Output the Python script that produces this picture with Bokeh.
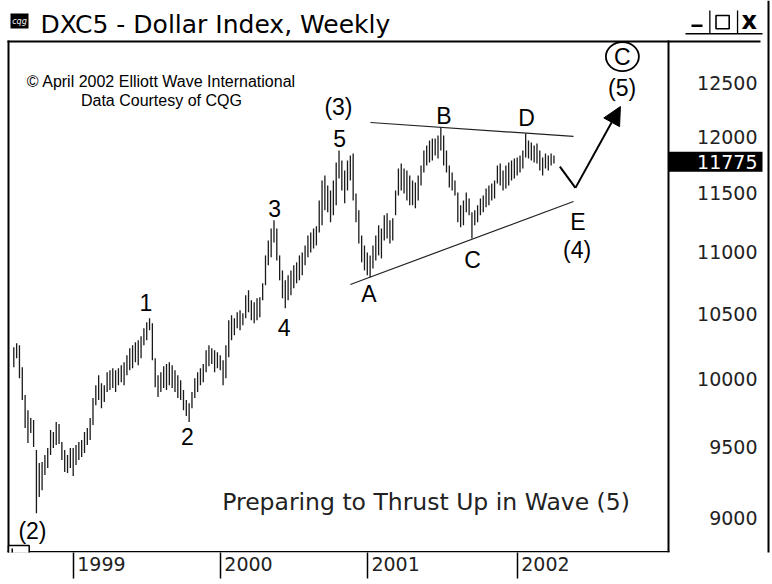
import math
from bokeh.plotting import figure
from bokeh.models import Range1d, FixedTicker, Label, BoxAnnotation, Arrow, NormalHead
from bokeh.core.properties import value
from bokeh.embed import file_html
from bokeh.resources import INLINE

# ---------------- data (weekly bars, Aug 1998 - Mar 2002) ----------------
highs = [10240, 10271, 10255, 10087, 9877, 9765, 9707, 9693, 9476, 9384,
         9391, 9440, 9490, 9620, 9606, 9678, 9664, 9534, 9476, 9440,
         9490, 9490, 9512, 9534, 9548, 9606, 9635, 9707, 9855, 9951,
         10026, 9966, 9951, 10049, 10064, 10079, 10064, 10079, 10102, 10125,
         10178, 10232, 10255, 10278, 10294, 10325, 10387, 10434, 10465, 10426,
         10155, 10026, 10049, 10094, 10110, 10125, 10102, 10064, 10026, 9988,
         9914, 9840, 9817, 9899, 10003, 10049, 10079, 10110, 10216, 10255,
         10232, 10216, 10201, 10178, 10140, 10255, 10449, 10489, 10465, 10513,
         10529, 10505, 10649, 10689, 10608, 10592, 10624, 10632, 10745, 10973,
         11097, 11198, 11267, 11198, 10973, 10850, 10769, 10810, 10850, 10891,
         10916, 10973, 10998, 11056, 11140, 11165, 11198, 11216, 11437, 11610,
         11654, 11567, 11523, 11610, 11768, 11876, 11786, 11698, 11786, 11831,
         11849, 11497, 11352, 11140, 11056, 10998, 10973, 11056, 11140, 11225,
         11198, 11310, 11327, 11267, 11284, 11523, 11716, 11760, 11716, 11698,
         11654, 11610, 11593, 11654, 11742, 11876, 11921, 11966, 11984, 11984,
         12011, 12083, 12011, 11876, 11742, 11680, 11610, 11506, 11395, 11437,
         11506, 11454, 11335, 11352, 11395, 11454, 11480, 11541, 11567, 11584,
         11610, 11742, 11760, 11698, 11742, 11768, 11786, 11804, 11813, 11831,
         11876, 12029, 11966, 11948, 11921, 11939, 11876, 11813, 11849, 11831,
         11849, 11831]
lows = [10087, 10155, 10003, 9840, 9635, 9526, 9598, 9498, 9036, 9146,
        9194, 9299, 9348, 9440, 9490, 9512, 9519, 9405, 9320, 9313,
        9348, 9292, 9370, 9405, 9426, 9455, 9512, 9548, 9657, 9802,
        9840, 9780, 9825, 9899, 9914, 9929, 9899, 9951, 9973, 9951,
        10026, 10064, 10079, 10125, 10102, 10155, 10255, 10294, 10372, 10140,
        9936, 9862, 9899, 9929, 9914, 9951, 9929, 9899, 9855, 9840,
        9765, 9722, 9678, 9780, 9855, 9899, 9951, 9973, 10049, 10094,
        10110, 10049, 10079, 10064, 9951, 10003, 10163, 10294, 10333, 10387,
        10372, 10410, 10465, 10513, 10449, 10426, 10449, 10473, 10608, 10729,
        10891, 10957, 11080, 10932, 10769, 10624, 10545, 10608, 10649, 10705,
        10745, 10769, 10810, 10891, 10957, 10998, 11031, 11056, 11165, 11225,
        11352, 11335, 11250, 11310, 11395, 11628, 11523, 11412, 11523, 11610,
        11437, 11250, 11072, 10916, 10850, 10810, 10794, 10866, 10932, 10973,
        10948, 11097, 11114, 11072, 11097, 11310, 11480, 11523, 11497, 11437,
        11395, 11395, 11369, 11437, 11567, 11680, 11742, 11768, 11786, 11831,
        11804, 11876, 11742, 11680, 11549, 11523, 11480, 11250, 11208, 11225,
        11335, 11310, 11114, 11225, 11250, 11310, 11335, 11378, 11395, 11437,
        11454, 11584, 11567, 11523, 11541, 11567, 11610, 11628, 11654, 11680,
        11716, 11813, 11804, 11786, 11768, 11760, 11698, 11654, 11716, 11698,
        11742, 11760]
bar_index = list(range(len(highs)))

year_labels = ["1999", "2000", "2001", "2002"]
year_first_bar = [21, 73, 125, 178]
price_ticks = [9000, 9500, 10000, 10500, 11000, 11500, 12000, 12500]
last_price = 11775

wave_labels = ["(2)", "1", "2", "3", "4", "5", "(3)", "A", "B", "C", "D", "E", "(4)", "(5)", "C"]
wave_x = [6.6, 46.7, 61.4, 92.2, 95.6, 115.2, 114.8, 125.6, 152.1, 162.2, 181.3, 199.5, 199.2, 215.1, 215.2]
wave_y = [8915, 10592, 9570, 11369, 10395, 11984, 12276, 10661, 12188, 10932, 12170, 11250, 11014, 12444, 12747]

upper_x = [126.1, 197.9]
upper_y = [12129, 12002]
lower_x = [119.0, 197.9]
lower_y = [10735, 11428]
proj_x = [193.1, 198.6, 214.5]
proj_y = [11733, 11546, 12276]

# ---------------- figure ----------------
W, H = 772, 584
p = figure(width=W, height=H, output_backend="svg", toolbar_location=None,
           y_axis_type="log", y_axis_location=None, x_axis_location="below",
           x_range=Range1d(-4.703, 268.28), y_range=Range1d(8772, 13297),
           min_border_left=0, min_border_right=0, min_border_top=0, min_border_bottom=32)
p.title.visible = False
p.grid.visible = False
p.outline_line_color = None
p.background_fill_color = "white"
p.border_fill_color = "white"

INK = "#1a1a1a"

# bars
p.segment(x0=bar_index, y0=lows, x1=bar_index, y1=highs, line_color=INK, line_width=1.3)

# trend lines and projection
p.line(upper_x, upper_y, line_color="#222222", line_width=1.2)
p.line(lower_x, lower_y, line_color="#222222", line_width=1.2)
p.line(proj_x[:2], proj_y[:2], line_color="black", line_width=2)
p.add_layout(Arrow(end=NormalHead(size=18, fill_color="black", line_color="black"),
                   x_start=proj_x[1], y_start=proj_y[1], x_end=proj_x[2], y_end=proj_y[2],
                   line_color="black", line_width=2))

# wave labels
p.text(x=wave_x, y=wave_y, text=wave_labels, text_font=value("Liberation Sans"),
       text_font_size="23px", text_align="center", text_baseline="middle", text_color="black")
p.ellipse(x=[wave_x[-1]], y=[wave_y[-1]], width=33, height=29, width_units="screen",
          height_units="screen", fill_color=None, line_color="black", line_width=1.8)

p.text(x=[52.2, 52.2], y=[12509, 12332],
       text=["\u00a9 April 2002 Elliott Wave International", "Data Courtesy of CQG"],
       text_font=value("Liberation Sans"), text_font_size="16px", text_align="center",
       text_baseline="middle", text_color="black")
p.text(x=[73.7], y=[9113], text=["Preparing to Thrust Up in Wave (5)"],
       text_font=value("DejaVu Sans"), text_font_size="23.5px", text_align="left",
       text_baseline="middle", text_color="#222222")

# price scale labels (right of the chart panel)
price_label_x = 262.97
p.text(x=[price_label_x] * len(price_ticks), y=price_ticks, text=[str(t) for t in price_ticks],
       text_font=value("DejaVu Sans"), text_font_size="19px", text_align="right",
       text_baseline="middle", text_color="#222222")

# bottom axis: year separators as minor ticks, labels just right of them
xa = p.xaxis[0]
label_pos = [b + 10 for b in year_first_bar]
xa.ticker = FixedTicker(ticks=label_pos, minor_ticks=year_first_bar)
xa.major_label_overrides = {pos: lab for pos, lab in zip(label_pos, year_labels)}
xa.axis_line_color = None
xa.major_tick_line_color = None
xa.major_tick_out = 0
xa.major_tick_in = 0
xa.minor_tick_in = 0
xa.minor_tick_out = 26
xa.minor_tick_line_color = "black"
xa.minor_tick_line_width = 1.5
xa.major_label_standoff = -22
xa.major_label_text_font = "DejaVu Sans"
xa.major_label_text_font_size = "19px"
xa.major_label_text_color = "#222222"


def cbox(l, r, t, b, fill="black", line=None, lw=1):
    return BoxAnnotation(left=l, right=r, top=t, bottom=b,
                         left_units="canvas", right_units="canvas",
                         top_units="canvas", bottom_units="canvas",
                         fill_color=fill, fill_alpha=1 if fill else 0,
                         line_color=line, line_width=lw, line_alpha=1)


# chart panel frame and window frame
p.add_layout(cbox(7, 760, 40, 42))      # top rule
p.add_layout(cbox(7, 9, 40, 552))       # left edge
p.add_layout(cbox(667, 669, 40, 552))   # chart panel right edge
p.add_layout(cbox(7, 669, 550.5, 552))  # bottom edge
p.add_layout(cbox(767, 769, 0, 584))    # window right border

# last price marker
half = math.exp(10 / 1327.0)
p.add_layout(BoxAnnotation(left=668, right=762, left_units="canvas", right_units="canvas",
                           top=last_price * half, bottom=last_price / half,
                           fill_color="black", fill_alpha=1, line_color=None))
p.add_layout(Label(x=price_label_x, y=last_price, text=str(last_price),
                   text_align="right", text_baseline="middle", text_color="white",
                   text_font="DejaVu Sans", text_font_size="19px"))

# title bar
p.add_layout(cbox(10, 28, 13, 28))
p.add_layout(Label(x=19, y=20.5, x_units="canvas", y_units="canvas", text="cqg",
                   text_align="center", text_baseline="middle", text_color="white",
                   text_font="DejaVu Sans", text_font_size="8px", text_font_style="italic"))
p.add_layout(Label(x=40, y=23.5, x_units="canvas", y_units="canvas",
                   text="DXC5 - Dollar Index, Weekly", text_align="left",
                   text_baseline="middle", text_color="black",
                   text_font="DejaVu Sans", text_font_size="25px"))
p.add_layout(cbox(685, 762, 32.6, 34))
p.add_layout(cbox(708.7, 710, 10, 33.5))
p.add_layout(cbox(736.4, 737.7, 10, 33.5))
p.add_layout(cbox(691, 702, 24, 26.5))
p.add_layout(cbox(715.5, 728.7, 15, 28.3, fill=None, line="black", lw=1.6))
p.add_layout(Label(x=748.7, y=20, x_units="canvas", y_units="canvas", text="x",
                   text_align="center", text_baseline="middle", text_color="black",
                   text_font="DejaVu Sans", text_font_size="24px", text_font_style="bold"))

# small scroll box at the lower left corner
p.add_layout(cbox(8, 28.7, 545, 584, fill="white", line="black", lw=1.5))
p.add_layout(cbox(11, 12.5, 548, 568))

open("out.html", "w").write(file_html(p, INLINE))
